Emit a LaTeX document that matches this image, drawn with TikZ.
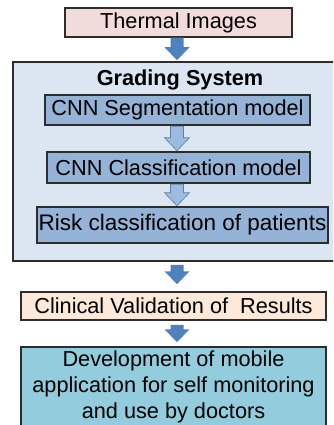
\documentclass[tikz,border=0pt]{standalone}
\usepackage{fontspec}
\setmainfont{Liberation Sans}
\usetikzlibrary{calc}

\definecolor{edgegray}{RGB}{45,45,45}
\definecolor{thermalfill}{RGB}{242,220,219}
\definecolor{gradingfill}{RGB}{220,230,242}
\definecolor{stepfill}{RGB}{149,179,215}
\definecolor{validfill}{RGB}{253,233,217}
\definecolor{devfill}{RGB}{147,205,221}
\definecolor{darkarrow}{RGB}{79,129,189}
\definecolor{lightarrow}{RGB}{155,187,225}
\definecolor{lightarrowedge}{RGB}{95,125,165}

% block arrow: style, source node, target node, gap below source, gap above target
\newcommand{\blockarrow}[5]{%
  \path[#1]
    ($(#2.south -| axis)+(-6.5,#4)$) --
    ($(#3.north -| axis)+(-6.5,-13-#5)$) --
    ($(#3.north -| axis)+(-12.5,-13-#5)$) --
    ($(#3.north -| axis)+(0,-#5)$) --
    ($(#3.north -| axis)+(12.5,-13-#5)$) --
    ($(#3.north -| axis)+(6.5,-13-#5)$) --
    ($(#2.south -| axis)+(6.5,#4)$) -- cycle;}

\begin{document}
\begin{tikzpicture}[x=1pt,y=-1pt,
  box/.style={draw=edgegray, line width=1.5pt, inner sep=0pt,
    font=\fontsize{21.7}{26}\selectfont, text=black},
  darkarr/.style={fill=darkarrow},
  lightarr/.style={fill=lightarrow, draw=lightarrowedge, line width=0.6pt}]
\useasboundingbox (0,0) rectangle (333,425);
\clip (0,0) rectangle (333,425);
\coordinate (axis) at (177,0);

% input
\node[box, fill=thermalfill, minimum width=227pt, minimum height=29pt]
  (thermal) at (178.5,22.5) {Thermal Images};

% grading system container
\node[box, fill=gradingfill, minimum width=345pt, minimum height=199pt]
  (grading) at (185.5,161.5) {};
\node[font=\fontsize{21.7}{26}\selectfont\bfseries, inner sep=0pt]
  (gradingtitle) at (180,80) {Grading System};

\node[box, fill=stepfill, minimum width=265pt, minimum height=30pt]
  (seg) at (177.5,110) {CNN Segmentation model};
\node[box, fill=stepfill, minimum width=263pt, minimum height=31pt]
  (cls) at (178.5,167.5) {CNN Classification model};
\node[box, fill=stepfill, minimum width=291pt, minimum height=36pt,
  font=\fontsize{22.5}{27}\selectfont]
  (risk) at (182.5,225) {Risk classification of patients};

% later stages
\node[box, fill=validfill, minimum width=305pt, minimum height=28pt]
  (valid) at (173.5,306) {Clinical Validation of~ Results};
\node[box, fill=devfill, minimum width=305pt, minimum height=80pt, align=center]
  (dev) at (173.5,387) {Development of mobile\\application for self monitoring\\and use by doctors};

% connectors
\blockarrow{darkarr}{thermal}{grading}{0}{1}
\blockarrow{lightarr}{seg}{cls}{0.5}{0.5}
\blockarrow{lightarr}{cls}{risk}{0.5}{0.5}
\blockarrow{darkarr}{grading}{valid}{3}{7}
\blockarrow{darkarr}{valid}{dev}{4}{4}
\end{tikzpicture}
\end{document}
